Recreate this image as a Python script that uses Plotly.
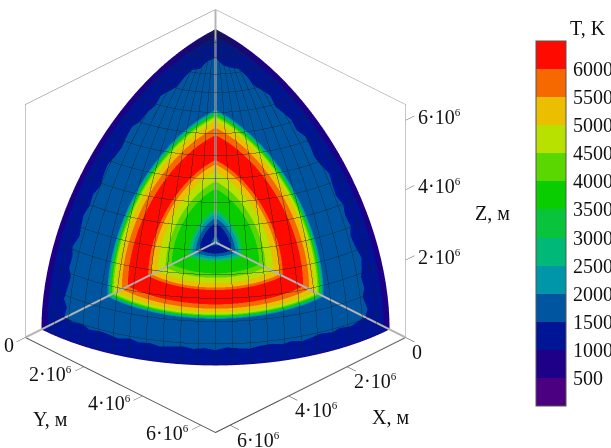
"""Temperature over the three cut planes of a sphere octant."""

import numpy as np
import plotly.graph_objects as go

band_colors = [
    "#4b0082", "#1e0088", "#001496", "#0055a0", "#0096aa", "#00b978", "#0ac33c",
    "#0acd00", "#5ad700", "#b9e100", "#ebbe00", "#f56900", "#ff0a00",
]
band_step = 500
tick_values = [500, 1000, 1500, 2000, 2500, 3000, 3500, 4000, 4500, 5000, 5500, 6000]

sphere_radius = 5.95e6
box_size = 6.5e6
plot_range = [-0.35e6, 6.85e6]
tick_length = 0.3e6
horizontal_ticks = [0, 2e6, 4e6, 6e6]
horizontal_text = ["0", "2·10", "4·10", "6·10"]
# z ticks sit a little higher than nominal in the picture
z_ticks = [2.16e6, 4.12e6, 6.06e6]
z_text = ["2·10", "4·10", "6·10"]
power = '<sup><span style="font-size:11px">6</span></sup>'

# radial temperature profile, read along the cut-plane edges (r / R, T in K)
radius_frac = [0.0, 0.012, 0.022, 0.03, 0.085, 0.095, 0.112, 0.125, 0.14, 0.155, 0.16,
               0.25, 0.255, 0.285, 0.29, 0.33, 0.335, 0.365, 0.37, 0.385, 0.39, 0.50,
               0.505, 0.535, 0.54, 0.565, 0.57, 0.585, 0.59, 0.60, 0.605, 0.61, 0.625]
temperature = [2300, 2050, 1750, 1300, 1300, 1750, 1950, 2250, 2750, 3250, 3600,
               3900, 4200, 4400, 4700, 4900, 5200, 5400, 5700, 5900, 6100, 6100,
               5900, 5600, 5400, 5100, 4800, 4600, 4200, 3800, 3200, 2700, 1800]

# edge of the 1500 K band against the outer blue rim, per plane, every 3 degrees
edge_angle = list(range(0, 91, 3))
edge_xy = [0.86, 0.87, 0.855, 0.875, 0.86, 0.865, 0.875, 0.855, 0.87, 0.86, 0.875,
           0.865, 0.855, 0.87, 0.86, 0.875, 0.855, 0.865, 0.875, 0.86, 0.855, 0.87,
           0.86, 0.875, 0.865, 0.855, 0.87, 0.86, 0.875, 0.865, 0.855]
edge_xz = [0.87, 0.855, 0.875, 0.86, 0.85, 0.87, 0.865, 0.88, 0.855, 0.865, 0.875,
           0.86, 0.87, 0.85, 0.865, 0.875, 0.86, 0.855, 0.87, 0.88, 0.86, 0.865,
           0.855, 0.875, 0.86, 0.85, 0.865, 0.875, 0.855, 0.87, 0.865]
edge_yz = [0.86, 0.875, 0.85, 0.865, 0.855, 0.87, 0.88, 0.86, 0.85, 0.87, 0.86,
           0.875, 0.855, 0.865, 0.88, 0.86, 0.85, 0.865, 0.875, 0.855, 0.87, 0.86,
           0.85, 0.875, 0.865, 0.855, 0.87, 0.88, 0.86, 0.85, 0.865]
rim_frac = [0.955, 1.0]
rim_temperature = {"xy": [1200, 950], "xz": [1050, 800], "yz": [1050, 800]}

label_font = dict(family="Liberation Serif", size=20, color="#111111")

colorscale = []
for i, color in enumerate(band_colors):
    colorscale.append([i / len(band_colors), color])
    colorscale.append([(i + 1) / len(band_colors), color])


def plane_coordinates(plane, r, angle):
    """Map polar coordinates on a cut plane to x, y, z."""
    a = np.radians(angle)
    u, v, w = r * np.cos(a), r * np.sin(a), np.zeros_like(r)
    if plane == "xy":
        return u, v, w
    if plane == "xz":
        return u, w, v
    return w, u, v


def plane_surface(plane, edge, show_scale):
    """Build one quarter disc from the profile, the band edge and the rim."""
    angles = np.array(edge_angle)
    edge = np.array(edge)
    rows = [np.full(len(angles), f) for f in radius_frac]
    values = [np.full(len(angles), t, dtype=float) for t in temperature]
    for offset, t in zip((-0.004, 0.004), (1700, 1300)):
        rows.append(edge + offset)
        values.append(np.full(len(angles), t, dtype=float))
    for f, t in zip(rim_frac, rim_temperature[plane]):
        rows.append(np.full(len(angles), f))
        values.append(np.full(len(angles), t, dtype=float))
    r = np.array(rows) * sphere_radius
    a = np.tile(angles, (len(rows), 1))
    x, y, z = plane_coordinates(plane, r, a)
    return go.Surface(
        x=x, y=y, z=z,
        surfacecolor=np.array(values),
        colorscale=colorscale,
        cmin=0, cmax=band_step * len(band_colors),
        showscale=show_scale,
        lighting=dict(ambient=1, diffuse=0, specular=0, roughness=1, fresnel=0),
        colorbar=dict(
            x=536 / 611, xanchor="left", y=1 - 41 / 448, yanchor="top",
            len=365 / 448, lenmode="fraction",
            thickness=30, thicknessmode="pixels",
            tickmode="array", tickvals=tick_values,
            ticks="outside", ticklen=3, tickcolor="rgba(0,0,0,0)",
            outlinecolor="#555555", outlinewidth=1, borderwidth=0,
            tickfont=label_font,
            xpad=0, ypad=0,
        ),
        hoverinfo="skip",
    )


def line_trace(segments, color, width):
    """One Scatter3d trace from a list of point lists."""
    xs, ys, zs = [], [], []
    for points in segments:
        for x, y, z in points:
            xs.append(x)
            ys.append(y)
            zs.append(z)
        xs.append(None)
        ys.append(None)
        zs.append(None)
    return go.Scatter3d(
        x=xs, y=ys, z=zs, mode="lines",
        line=dict(color=color, width=width),
        hoverinfo="skip", showlegend=False,
    )


def sphere_mesh():
    """Latitude and longitude lines on the sphere, in front of the planes."""
    R = sphere_radius
    segments = []
    for lat in np.radians(np.linspace(0, 90, 17)[1:-1]):
        lons = np.radians(np.linspace(0, 90, 61))
        segments.append(list(zip(R * np.cos(lat) * np.cos(lons),
                                 R * np.cos(lat) * np.sin(lons),
                                 R * np.sin(lat) * np.ones(61))))
    for lon in np.radians(np.linspace(0, 90, 23)[1:-1]):
        lats = np.radians(np.linspace(0, 90, 61))
        segments.append(list(zip(R * np.cos(lats) * np.cos(lon),
                                 R * np.cos(lats) * np.sin(lon),
                                 R * np.sin(lats))))
    return line_trace(segments, "rgba(15,30,30,0.8)", 1)


def box_frame():
    """Axes box drawn by hand so that every edge matches the picture."""
    s = box_size
    traces = [
        line_trace([[(s, 0, 0), (s, 0, s), (0, 0, s), (0, s, s), (0, s, 0)]], "#8c8c8c", 1),
        line_trace([[(s, 0, 0), (s, s, 0), (0, s, 0)]], "#555555", 2),
    ]
    # back edges are pushed along the view direction so they stay on top
    dx, dz = 0.3e6, 0.245e6
    back = [[(dx, dx, dz), (s + dx, dx, dz)],
            [(dx, dx, dz), (dx, s + dx, dz)],
            [(dx, dx, dz), (dx, dx, s + dz)]]
    traces.append(line_trace(back, "#b4b4b4", 4))
    return traces


def tick_marks():
    """Short ticks outside the labelled box edges."""
    s, t = box_size, tick_length
    segments = []
    for v in horizontal_ticks:
        segments.append([(v, s, 0), (v, s + t, 0)])
        segments.append([(s, v, 0), (s + t, v, 0)])
    for v in z_ticks:
        segments.append([(0, s, v), (-t, s, v)])
    return line_trace(segments, "#555555", 1)


def tick_labels():
    """Tick labels as scene annotations, each anchored at its tick end."""
    s, t = box_size, tick_length
    labels = []
    for v, text in zip(horizontal_ticks, horizontal_text):
        label = text if v == 0 else text + power
        labels.append(dict(x=v, y=s + t, z=0, text=label, xanchor="left", yanchor="middle",
                           xshift=-4, yshift=-10))
        labels.append(dict(x=s + t, y=v, z=0, text=label, xanchor="right", yanchor="middle",
                           xshift=-1, yshift=-3))
    for v, text in zip(z_ticks, z_text):
        labels.append(dict(x=-t, y=s, z=v, text=text + power, xanchor="left", yanchor="middle",
                           xshift=2, yshift=-1))
    for label in labels:
        label.update(showarrow=False, font=label_font)
    return labels


fig = go.Figure()
fig.add_trace(plane_surface("xy", edge_xy, True))
fig.add_trace(plane_surface("xz", edge_xz, False))
fig.add_trace(plane_surface("yz", edge_yz, False))
fig.add_trace(sphere_mesh())
fig.add_traces(box_frame())
fig.add_trace(tick_marks())

axis_style = dict(range=plot_range, visible=False, showspikes=False)
fig.update_layout(
    width=611, height=448,
    margin=dict(l=0, r=0, t=0, b=0, autoexpand=False),
    paper_bgcolor="white",
    showlegend=False,
    scene=dict(
        domain=dict(x=[0, 0.705], y=[6 / 448, 1]),
        xaxis=axis_style, yaxis=axis_style, zaxis=axis_style,
        aspectmode="manual",
        aspectratio=dict(x=1.348, y=1.348, z=1.348),
        camera=dict(
            projection=dict(type="orthographic"),
            eye=dict(x=1.25, y=1.25, z=1.02),
            up=dict(x=0, y=0, z=1),
        ),
        annotations=tick_labels(),
    ),
    annotations=[
        dict(text="T, K", x=588 / 611, y=1 - 28 / 448),
        dict(text="Z, м", x=492 / 611, y=1 - 213 / 448),
        dict(text="X, м", x=390 / 611, y=1 - 417 / 448),
        dict(text="Y, м", x=50 / 611, y=1 - 419 / 448),
    ],
)
fig.update_annotations(
    xref="paper", yref="paper", showarrow=False,
    xanchor="center", yanchor="middle", font=label_font,
)
fig.write_html(
    "out.html",
    config=dict(displayModeBar=False),
    post_script="document.body.style.margin = '0';",
)
